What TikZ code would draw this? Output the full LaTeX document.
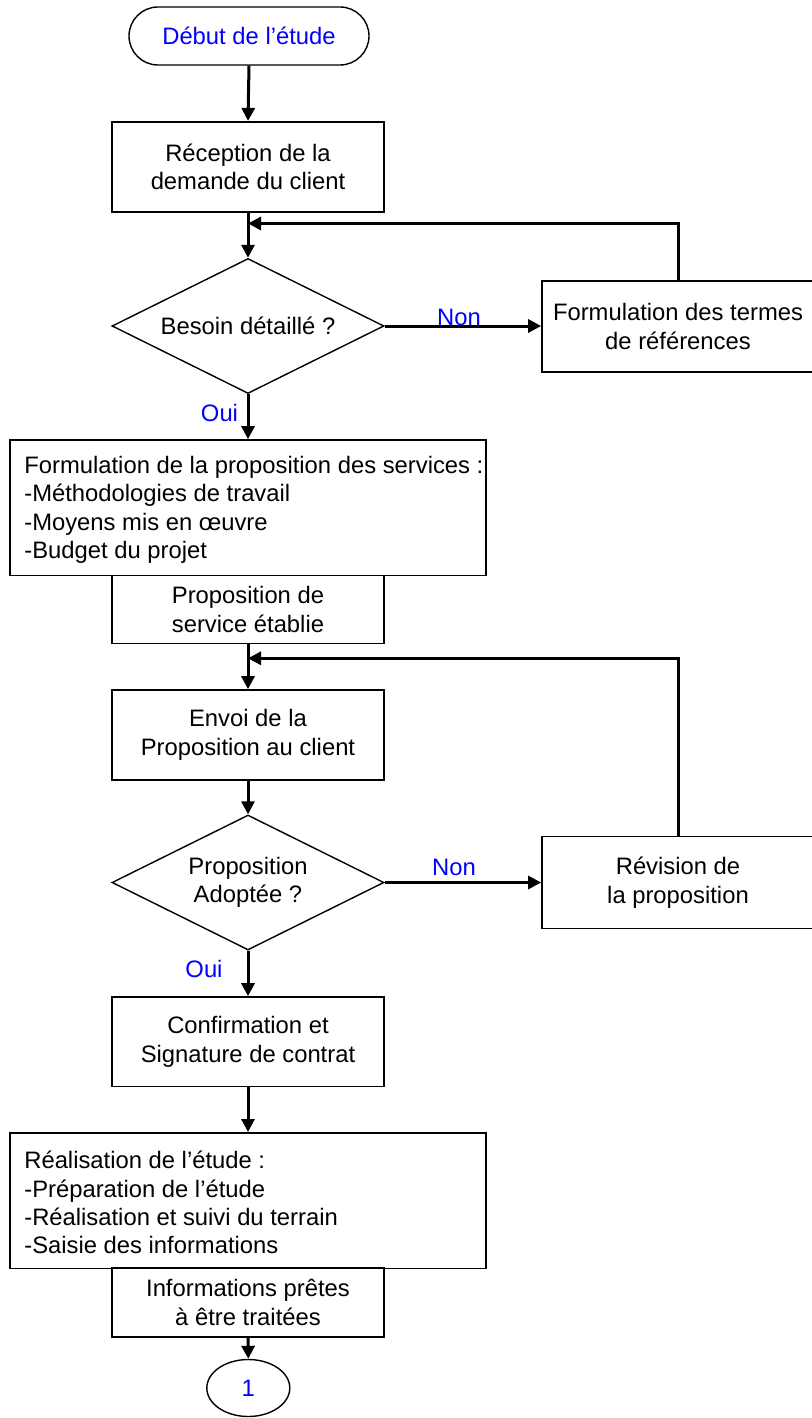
\documentclass[tikz,border=0pt]{standalone}
\usepackage{fontspec}
\setmainfont{Liberation Sans}
\usetikzlibrary{arrows.meta,shapes.geometric}
\begin{document}
\begin{tikzpicture}[x=1pt,y=-1pt,
  txt/.style={font=\fontsize{23.8}{28.4}\selectfont},
  box/.style={txt,draw,line width=1.7pt,rectangle,minimum width=272pt,inner sep=0pt,align=center},
  widebox/.style={draw,line width=1.7pt,rectangle,minimum width=476pt,minimum height=135.5pt,inner sep=0pt},
  listtext/.style={txt,align=left,inner sep=0pt,anchor=west},
  decision/.style={txt,draw,line width=1.4pt,diamond,shape aspect=2,minimum width=272pt,minimum height=135pt,inner sep=0pt,align=center},
  terminal/.style={txt,draw,line width=1.4pt,rectangle,rounded corners=29pt,minimum width=240pt,minimum height=58pt,text=blue},
  connector/.style={txt,draw,line width=1.4pt,ellipse,minimum width=83pt,minimum height=57pt,inner sep=0pt,text=blue},
  conn/.style={line width=3pt,-{Triangle[length=13pt,width=13pt]}},
  answer/.style={txt,text=blue,inner sep=0pt},
]
\useasboundingbox (0,0) rectangle (811,1418);

% main column
\node[terminal] (start) at (249,36) {Début de l’étude};
\node[box,minimum height=90.5pt] (recep) at (248,167) {Réception de la\\demande du client};
\node[decision] (besoin) at (248,326) {Besoin détaillé ?};
\node[box,minimum height=91pt] (termes) at (678,326.5) {Formulation des termes\\de références};

\node[widebox] (propo) at (248,507.75) {};
\node[listtext] (propotxt) at ([xshift=15pt,yshift=-2pt]propo.west)
  {Formulation de la proposition des services :\\-Méthodologies de travail\\-Moyens mis en œuvre\\-Budget du projet};
\node[box,minimum height=68pt] (etablie) at (248,609.5) {Proposition de\\service établie};

\node[box,minimum height=90pt] (envoi) at (248,735) {Envoi de la\\Proposition au client};
\node[decision] (adoptee) at (248,882.5) {Proposition\\Adoptée ?};
\node[box,minimum height=92pt] (revision) at (678,882.5) {Révision de\\la proposition};

\node[box,minimum height=89.5pt] (confirm) at (248,1041.75) {Confirmation et\\Signature de contrat};

\node[widebox] (real) at (248,1200.6) {};
\node[listtext] (realtxt) at ([xshift=15pt,yshift=-2pt]real.west)
  {Réalisation de l’étude :\\-Préparation de l’étude\\-Réalisation et suivi du terrain\\-Saisie des informations};
\node[box,minimum height=68.4pt] (pretes) at (248,1302.5) {Informations prêtes\\à être traitées};

\node[connector] (suite) at (248.3,1388) {1};

% answer labels
\node[answer] (non1) at (459,317) {Non};
\node[answer] (oui1) at (219.5,413) {Oui};
\node[answer] (non2) at (454,867) {Non};
\node[answer] (oui2) at (204,969) {Oui};

% join points of the loops
\coordinate (loop1) at (248,223.5);
\coordinate (loop2) at (248,658.3);

% connectors
\draw[conn] (start.south) -- (recep.north);
\draw[conn] (recep.south) -- (besoin.north);
\draw[conn] (besoin.east) -- (termes.west |- besoin.east);
\draw[conn] (termes.north) |- (loop1);
\draw[conn] (besoin.south) -- (propo.north);
\draw[conn] (etablie.south) -- (envoi.north);
\draw[conn] (revision.north) |- (loop2);
\draw[conn] (envoi.south) -- (adoptee.north);
\draw[conn] (adoptee.east) -- (revision.west |- adoptee.east);
\draw[conn] (adoptee.south) -- (confirm.north);
\draw[conn] (confirm.south) -- (real.north);
\draw[conn] (pretes.south) -- (suite.north);
\end{tikzpicture}
\end{document}
